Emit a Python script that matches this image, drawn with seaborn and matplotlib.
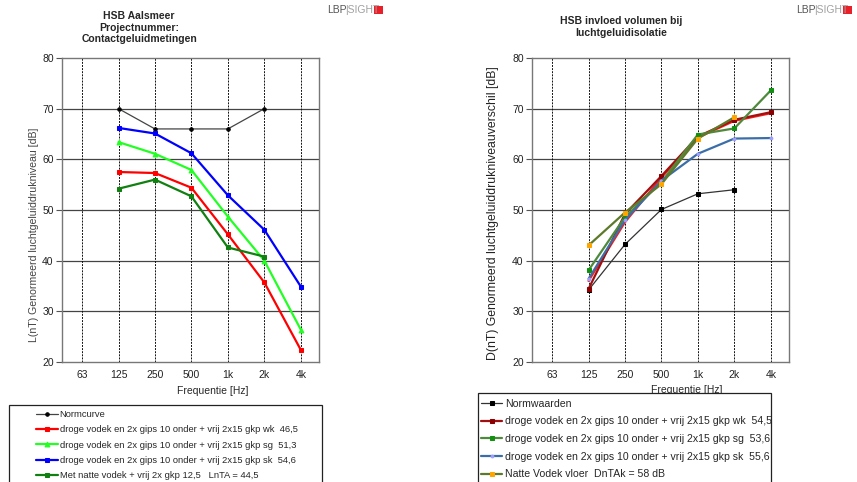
import numpy as np
import pandas as pd
import matplotlib
matplotlib.use("Agg")
import matplotlib.pyplot as plt
from matplotlib.patches import Rectangle
import seaborn as sns

sns.set_theme(style="white")
plt.rcParams['font.family'] = ['Liberation Sans', 'DejaVu Sans']

freqs = ["63", "125", "250", "500", "1k", "2k", "4k"]

# Left chart: contact noise
left_labels = [
    "Normcurve",
    "droge vodek en 2x gips 10 onder + vrij 2x15 gkp wk  46,5",
    "droge vodek en 2x gips 10 onder + vrij 2x15 gkp sg  51,3",
    "droge vodek en 2x gips 10 onder + vrij 2x15 gkp sk  54,6",
    "Met natte vodek + vrij 2x gkp 12,5   LnTA = 44,5",
]
left_norm = [np.nan, 70, 66, 66, 66, 70, np.nan]
left_wk = [np.nan, 57.5, 57.3, 54.4, 45.2, 35.7, 22.4]
left_sg = [np.nan, 63.4, 61.1, 57.9, 48.7, 40.0, 26.4]
left_sk = [np.nan, 66.2, 65.1, 61.2, 52.9, 46.1, 34.9]
left_nat = [np.nan, 54.2, 56.0, 52.7, 42.6, 40.8, np.nan]

# Right chart: airborne insulation
right_labels = [
    "Normwaarden",
    "droge vodek en 2x gips 10 onder + vrij 2x15 gkp wk  54,5",
    "droge vodek en 2x gips 10 onder + vrij 2x15 gkp sg  53,6",
    "droge vodek en 2x gips 10 onder + vrij 2x15 gkp sk  55,6",
    "Natte Vodek vloer  DnTAk = 58 dB",
]
right_norm = [np.nan, 34.2, 43.2, 50.1, 53.2, 54.0, np.nan]
right_wk = [np.nan, 34.4, 49.2, 56.7, 64.5, 67.8, 69.3]
right_sg = [np.nan, 38.1, 48.6, 55.5, 64.9, 66.1, 73.6]
right_sk = [np.nan, 36.4, 48.0, 55.8, 61.1, 64.1, 64.2]
right_nat = [np.nan, 43.0, 49.5, 55.1, 64.1, 68.3, np.nan]
right_extra = [np.nan, 36.0, 47.6, 56.4, 64.3, 67.6, 69.1]

W, H = 857, 482
fig = plt.figure(figsize=(W / 100, H / 100), dpi=100)


def fx(px):
    return px / W


def fy(py):
    return 1 - py / H


def make_df(values):
    df = pd.DataFrame({"freq": freqs, "val": values})
    df["pos"] = [freqs.index(f) for f in df["freq"]]
    return df.dropna()


def style_axes(ax, ylabel, ylsize, ylcolor):
    ax.set_xlim(-0.55, 6.5)
    ax.set_ylim(20, 80)
    ax.set_xticks(range(len(freqs)))
    ax.set_xticklabels(freqs, fontsize=7.5, color="#222222")
    ax.set_xticks(np.arange(-0.5, 6.6, 1.0), minor=True)
    ax.set_yticks(range(20, 81, 10))
    ax.set_yticklabels([str(v) for v in range(20, 81, 10)], fontsize=7.5, color="#222222")
    ax.tick_params(axis="x", which="major", length=0, pad=6)
    ax.tick_params(axis="x", which="minor", length=4, direction="inout", color="#555555", width=0.8)
    ax.tick_params(axis="y", which="major", length=4, direction="out", color="#555555", width=0.8, pad=2, left=True)
    for y in range(30, 80, 10):
        ax.axhline(y, color="#444444", lw=0.9, zorder=1)
    for x in range(len(freqs)):
        ax.axvline(x, color="#111111", lw=0.7, ls=(0, (2, 1.2)), zorder=1)
    for s in ax.spines.values():
        s.set_color("#777777")
        s.set_linewidth(1.0)
    ax.set_xlabel("Frequentie [Hz]", fontsize=7.5)
    ax.set_ylabel(ylabel, fontsize=ylsize, color=ylcolor)


# ---------- Left ----------
axL = fig.add_axes([fx(62), fy(362), fx(257), (362 - 58) / H])
left_series = [
    (left_norm, "#444444", "#000000", "o", 2.5, 0.9),
    (left_wk, "#ff0000", "#ff0000", "s", 2.5, 1.6),
    (left_sg, "#22ff22", "#22ff22", "^", 3.5, 1.6),
    (left_sk, "#0000ff", "#0000ff", "s", 3.5, 1.6),
    (left_nat, "#108010", "#108010", "s", 3.5, 1.6),
]
for (vals, lc, mc, mk, ms, lw), lab in zip(left_series, left_labels):
    sns.lineplot(data=make_df(vals), x="pos", y="val", ax=axL, color=lc, marker=mk,
                 markersize=ms, markerfacecolor=mc, markeredgecolor=mc, linewidth=lw,
                 label=lab, zorder=3)
style_axes(axL, "L(nT) Genormeerd luchtgeluiddrukniveau [dB]", 7.6, "#444444")
axL.yaxis.set_label_coords((39 - 62) / 257, (362 - 235) / 304)
axL.xaxis.set_label_coords((213 - 62) / 257, (362 - 386) / 304)
hL, lL = axL.get_legend_handles_labels()
axL.get_legend().remove()

# ---------- Right ----------
axR = fig.add_axes([fx(532), fy(362), fx(257), (362 - 58) / H])
sns.lineplot(data=make_df(right_extra), x="pos", y="val", ax=axR, color="#ff1a1a",
             linewidth=1.6, zorder=2, legend=False)
right_series = [
    (right_norm, "#333333", "#000000", "s", 2.5, 0.9),
    (right_wk, "#a01010", "#8b0000", "s", 3.5, 1.6),
    (right_sg, "#4f8a3c", "#119011", "s", 3.5, 1.6),
    (right_sk, "#3b6ea8", "#a0a0ff", "o", 2.0, 1.6),
    (right_nat, "#5d7a2a", "#ffa500", "s", 3.5, 1.6),
]
for (vals, lc, mc, mk, ms, lw), lab in zip(right_series, right_labels):
    sns.lineplot(data=make_df(vals), x="pos", y="val", ax=axR, color=lc, marker=mk,
                 markersize=ms, markerfacecolor=mc, markeredgecolor=mc, linewidth=lw,
                 label=lab, zorder=3)
style_axes(axR, "D(nT) Genormeerd luchtgeluiddrukniveauverschil [dB]", 8.8, "#222222")
axR.yaxis.set_label_coords((499 - 532) / 257, (362 - 213) / 304)
axR.xaxis.set_label_coords((687 - 532) / 257, (362 - 385) / 304)
hR, lR = axR.get_legend_handles_labels()
axR.get_legend().remove()

# ---------- Titles ----------
fig.text(fx(139), fy(11), "HSB Aalsmeer\nProjectnummer:\nContactgeluidmetingen",
         ha="center", va="top", fontsize=7.5, fontweight="bold", linespacing=1.2)
fig.text(fx(621), fy(16), "HSB invloed volumen bij\nluchtgeluidisolatie",
         ha="center", va="top", fontsize=7.5, fontweight="bold", linespacing=1.3)

# ---------- Logos ----------
for x0 in (327, 796):
    fig.text(fx(x0), fy(10), "LBP", ha="left", va="center", fontsize=7.5, color="#555555")
    fig.text(fx(x0 + 18), fy(10), "|SIGHT", ha="left", va="center", fontsize=7.5, color="#a0a0a0")
    fig.patches.append(Rectangle((fx(x0 + 47), fy(14)), fx(9), 8 / H, transform=fig.transFigure,
                                 facecolor="#e8202a", edgecolor="none", figure=fig))

# ---------- Legends ----------
fig.patches.append(Rectangle((fx(9), fy(490)), fx(313), (490 - 405) / H, transform=fig.transFigure,
                             facecolor="white", edgecolor="#222222", lw=0.9, figure=fig, zorder=5))
legL = fig.legend(hL, lL, loc="upper left", bbox_to_anchor=(fx(33), fy(407)),
                  frameon=False, fontsize=6.75, handlelength=2.35, handletextpad=0.2,
                  labelspacing=0.68, borderpad=0.3, borderaxespad=0)
legL.set_zorder(6)

fig.patches.append(Rectangle((fx(478), fy(490)), fx(293), (490 - 393) / H, transform=fig.transFigure,
                             facecolor="white", edgecolor="#222222", lw=0.9, figure=fig, zorder=5))
legR = fig.legend(hR, lR, loc="upper left", bbox_to_anchor=(fx(478), fy(395.5)),
                  frameon=False, fontsize=7.57, handlelength=2.0, handletextpad=0.28,
                  labelspacing=0.73, borderpad=0.3, borderaxespad=0)
legR.set_zorder(6)

fig.savefig("out.png", dpi=100)
